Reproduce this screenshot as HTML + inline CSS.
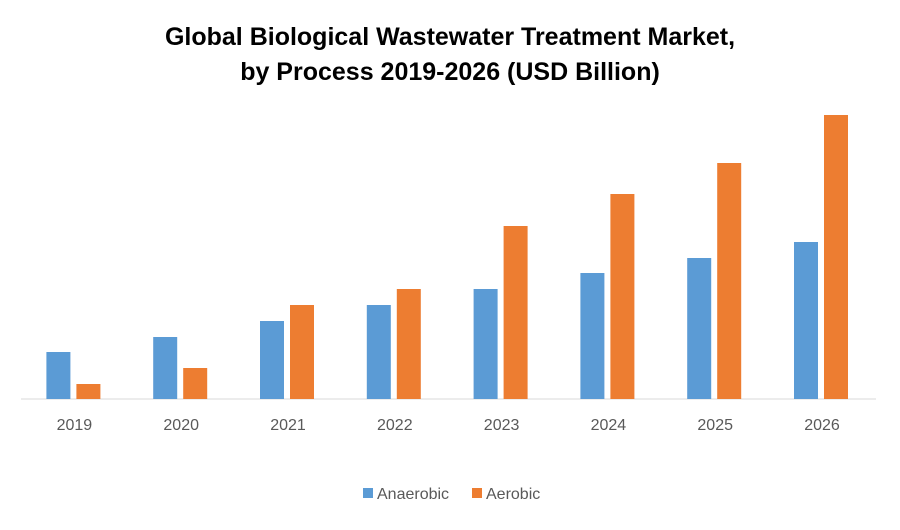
<!DOCTYPE html>
<html><head><meta charset="utf-8"><style>
body{margin:0;background:#fff;width:900px;height:525px;overflow:hidden;font-family:"Liberation Sans",sans-serif}
</style></head><body>
<svg id="chart" width="900" height="525" xmlns="http://www.w3.org/2000/svg">
<text x="450" y="45" text-anchor="middle" font-size="25" font-weight="bold" fill="#000">Global Biological Wastewater Treatment Market,</text>
<text x="450" y="80" text-anchor="middle" font-size="25" font-weight="bold" fill="#000">by Process 2019-2026 (USD Billion)</text>
<line x1="21" y1="399" x2="876" y2="399" stroke="#d9d9d9" stroke-width="1"/>
<g id="bars"></g>
<g id="labels"></g>
<g>
<rect x="363" y="488" width="10" height="10" fill="#5B9BD5"/>
<text x="377" y="499" font-size="16" fill="#595959">Anaerobic</text>
<rect x="472" y="488" width="10" height="10" fill="#ED7D31"/>
<text x="486" y="499" font-size="16" fill="#595959">Aerobic</text>
</g>
</svg>
<script>
const categories = ["2019","2020","2021","2022","2023","2024","2025","2026"];
const anaerobic = [47,62,78,94,110,126,141,157];
const aerobic = [15,31,94,110,173,205,236,284];
const NS="http://www.w3.org/2000/svg";
const x0=21, step=106.8, base=399, pxPerUnit=1;
function xc(i){return x0+step*(i+0.5);}
function yv(v){return base-v*pxPerUnit;}
const gb=document.getElementById('bars'), gl=document.getElementById('labels');
categories.forEach((c,i)=>{
  const a=document.createElementNS(NS,'rect');
  a.setAttribute('x',xc(i)-28);a.setAttribute('y',yv(anaerobic[i]));
  a.setAttribute('width',24);a.setAttribute('height',base-yv(anaerobic[i]));a.setAttribute('fill','#5B9BD5');
  
  
  gb.appendChild(a);
  const b=document.createElementNS(NS,'rect');
  b.setAttribute('x',xc(i)+2);b.setAttribute('y',yv(aerobic[i]));
  b.setAttribute('width',24);b.setAttribute('height',base-yv(aerobic[i]));b.setAttribute('fill','#ED7D31');
  
  
  gb.appendChild(b);
  const t=document.createElementNS(NS,'text');
  t.setAttribute('x',xc(i));t.setAttribute('y',430);t.setAttribute('text-anchor','middle');
  t.setAttribute('font-size','16');t.setAttribute('fill','#595959');t.textContent=c;
  
  
  gl.appendChild(t);
});
</script>
</body></html>
